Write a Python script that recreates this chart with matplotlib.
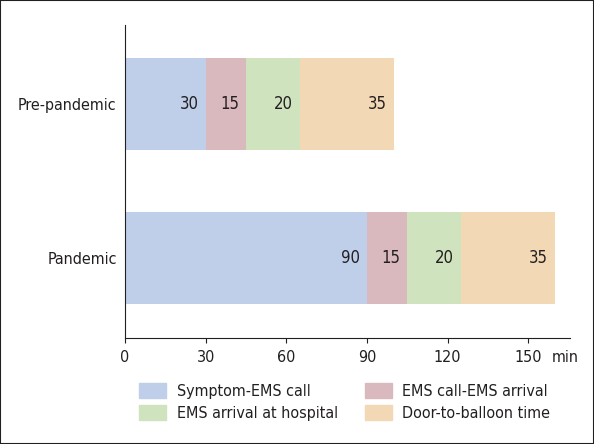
import numpy as np
import matplotlib.pyplot as plt
from matplotlib.patches import Patch, Rectangle

plt.rcParams['font.family'] = ['DejaVu Sans']
plt.rcParams['font.stretch'] = 'condensed'
plt.rcParams['font.size'] = 11.5
plt.rcParams['text.color'] = '#231f20'
plt.rcParams['xtick.color'] = '#231f20'
plt.rcParams['ytick.color'] = '#231f20'

groups = ['Pandemic', 'Pre-pandemic']
segments = ['Symptom-EMS call', 'EMS call-EMS arrival', 'EMS arrival at hospital', 'Door-to-balloon time']
pandemic = [90, 15, 20, 35]
pre_pandemic = [30, 15, 20, 35]
colors = ['#bfcfe9', '#dab9be', '#cfe3be', '#f3d8b5']
xticks = [0, 30, 60, 90, 120, 150]

values = np.array([pandemic, pre_pandemic])

fig = plt.figure(figsize=(5.94, 4.44), dpi=100)
ax = fig.add_axes([125 / 594, 1 - 338 / 444, 445 / 594, 313 / 444])

ind = np.arange(len(groups))
left = np.zeros(len(groups))
for j, seg in enumerate(segments):
    ax.barh(ind, values[:, j], 0.6, left=left, color=colors[j], label=seg)
    for i in range(len(groups)):
        ax.annotate(str(values[i, j]), xy=(left[i] + values[i, j], ind[i]),
                    xytext=(-5, 0), textcoords='offset points',
                    ha='right', va='center', fontsize=12)
    left += values[:, j]

ax.set_xlim(0, 165.5)
ax.set_ylim(-0.52, 1.515)
ax.set_xticks(xticks)
ax.set_xticklabels([str(t) for t in xticks], fontsize=11.5)
ax.set_yticks(ind)
ax.set_yticklabels(groups, fontsize=11.5)
ax.tick_params(axis='y', length=0, pad=6)
ax.tick_params(axis='x', length=3.6, width=0.8, pad=5, direction='out')
ax.spines['top'].set_visible(False)
ax.spines['right'].set_visible(False)
for s in ['left', 'bottom']:
    ax.spines[s].set_linewidth(0.8)
    ax.spines[s].set_color('#231f20')

# unit label sits just past the end of the axis line
ax.annotate('min', xy=(1.0, 0), xycoords='axes fraction',
            xytext=(6, -8.6), textcoords='offset points',
            ha='right', va='top', fontsize=11.5)

handles = [Patch(color=c) for c in colors]
order = [0, 2, 1, 3]
fig.legend([handles[k] for k in order], [segments[k] for k in order],
           ncol=2, frameon=False, loc='upper left',
           bbox_to_anchor=(139 / 594, 1 - 383 / 444),
           fontsize=11.5, handlelength=1.7, handleheight=1.1,
           handletextpad=0.65, columnspacing=1.7, labelspacing=0.35,
           borderaxespad=0, borderpad=0)

fig.patches.append(Rectangle((0, 0), 1, 1, transform=fig.transFigure,
                             fill=False, edgecolor='#231f20', linewidth=1.5))

fig.savefig('out.png', dpi=100)
